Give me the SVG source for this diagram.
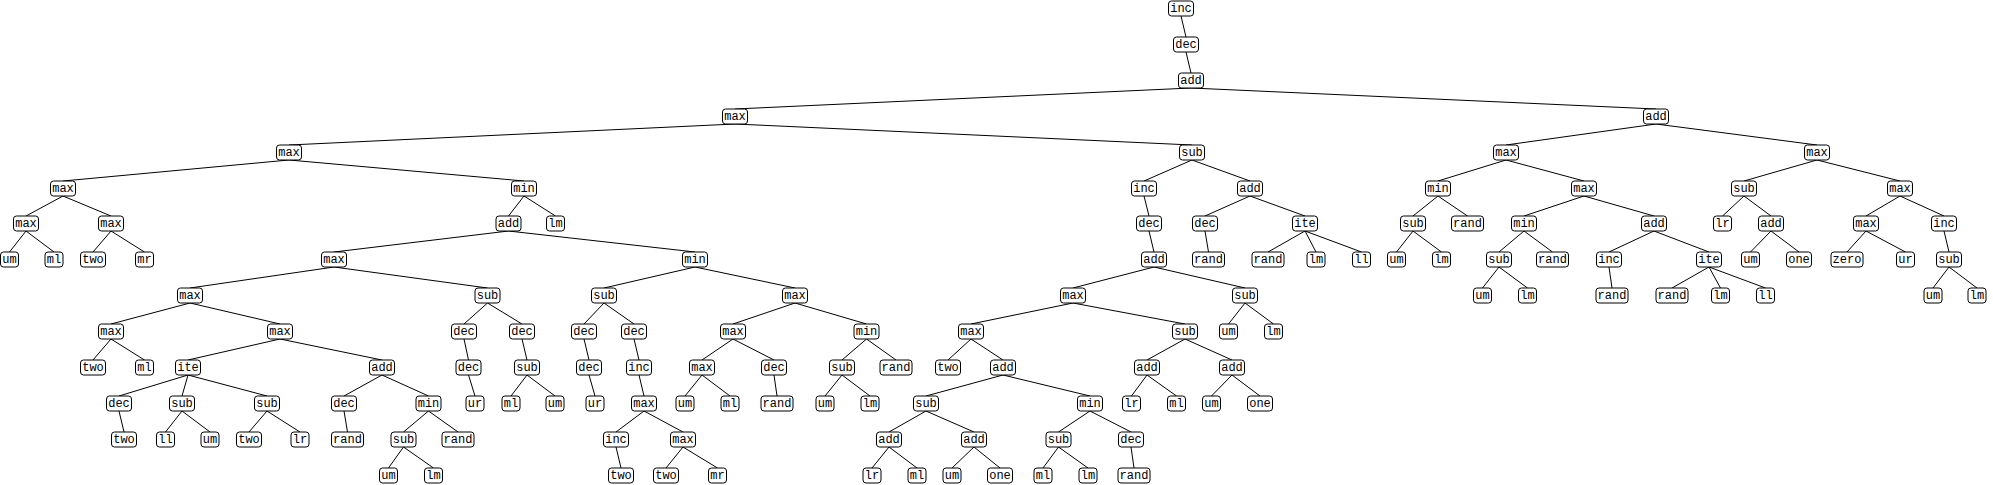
<svg xmlns="http://www.w3.org/2000/svg" width="1993" height="485" viewBox="0 0 1993 485">
<style>
.node rect{fill:#fff;stroke:#000;stroke-width:1}
.node text{font-family:"Liberation Mono","DejaVu Sans Mono",monospace;font-size:12px;text-anchor:middle;fill:#000}
#edges line{stroke:#000;stroke-width:1}
</style>
<rect width="1993" height="485" fill="#fff"/>
<g id="edges">
<line x1="1181" y1="16" x2="1186" y2="37"/>
<line x1="1186" y1="52" x2="1191" y2="73"/>
<line x1="1191" y1="88" x2="735" y2="109"/>
<line x1="1191" y1="88" x2="1656" y2="109"/>
<line x1="735" y1="124" x2="289" y2="145"/>
<line x1="735" y1="124" x2="1192" y2="145"/>
<line x1="289" y1="160" x2="63" y2="181"/>
<line x1="289" y1="160" x2="524" y2="181"/>
<line x1="63" y1="196" x2="26" y2="216"/>
<line x1="63" y1="196" x2="111" y2="216"/>
<line x1="26" y1="231" x2="9.5" y2="252"/>
<line x1="26" y1="231" x2="54" y2="252"/>
<line x1="111" y1="231" x2="93" y2="252"/>
<line x1="111" y1="231" x2="144.5" y2="252"/>
<line x1="524" y1="196" x2="508.5" y2="216"/>
<line x1="524" y1="196" x2="555.5" y2="216"/>
<line x1="508.5" y1="231" x2="334" y2="252"/>
<line x1="508.5" y1="231" x2="695" y2="252"/>
<line x1="334" y1="267" x2="190" y2="288"/>
<line x1="334" y1="267" x2="487.5" y2="288"/>
<line x1="190" y1="303" x2="111" y2="324"/>
<line x1="190" y1="303" x2="280" y2="324"/>
<line x1="111" y1="339" x2="93" y2="360"/>
<line x1="111" y1="339" x2="144.5" y2="360"/>
<line x1="280" y1="339" x2="188" y2="360"/>
<line x1="280" y1="339" x2="382" y2="360"/>
<line x1="188" y1="375" x2="119" y2="396"/>
<line x1="188" y1="375" x2="182" y2="396"/>
<line x1="188" y1="375" x2="267" y2="396"/>
<line x1="119" y1="411" x2="124" y2="432"/>
<line x1="182" y1="411" x2="165.5" y2="432"/>
<line x1="182" y1="411" x2="210" y2="432"/>
<line x1="267" y1="411" x2="249" y2="432"/>
<line x1="267" y1="411" x2="300" y2="432"/>
<line x1="382" y1="375" x2="344" y2="396"/>
<line x1="382" y1="375" x2="428.5" y2="396"/>
<line x1="344" y1="411" x2="347.5" y2="432"/>
<line x1="428.5" y1="411" x2="403.5" y2="432"/>
<line x1="428.5" y1="411" x2="458" y2="432"/>
<line x1="403.5" y1="447" x2="388.5" y2="468"/>
<line x1="403.5" y1="447" x2="433.5" y2="468"/>
<line x1="487.5" y1="303" x2="464" y2="324"/>
<line x1="487.5" y1="303" x2="522" y2="324"/>
<line x1="464" y1="339" x2="468.5" y2="360"/>
<line x1="468.5" y1="375" x2="475" y2="396"/>
<line x1="522" y1="339" x2="527" y2="360"/>
<line x1="527" y1="375" x2="511" y2="396"/>
<line x1="527" y1="375" x2="555" y2="396"/>
<line x1="695" y1="267" x2="604" y2="288"/>
<line x1="695" y1="267" x2="795" y2="288"/>
<line x1="604" y1="303" x2="584" y2="324"/>
<line x1="604" y1="303" x2="634" y2="324"/>
<line x1="584" y1="339" x2="589" y2="360"/>
<line x1="589" y1="375" x2="595" y2="396"/>
<line x1="634" y1="339" x2="639" y2="360"/>
<line x1="639" y1="375" x2="644" y2="396"/>
<line x1="644" y1="411" x2="616" y2="432"/>
<line x1="644" y1="411" x2="683" y2="432"/>
<line x1="616" y1="447" x2="621" y2="468"/>
<line x1="683" y1="447" x2="666" y2="468"/>
<line x1="683" y1="447" x2="717.5" y2="468"/>
<line x1="795" y1="303" x2="733" y2="324"/>
<line x1="795" y1="303" x2="866.5" y2="324"/>
<line x1="733" y1="339" x2="702" y2="360"/>
<line x1="733" y1="339" x2="774" y2="360"/>
<line x1="702" y1="375" x2="685" y2="396"/>
<line x1="702" y1="375" x2="730" y2="396"/>
<line x1="774" y1="375" x2="777" y2="396"/>
<line x1="866.5" y1="339" x2="842" y2="360"/>
<line x1="866.5" y1="339" x2="896" y2="360"/>
<line x1="842" y1="375" x2="825" y2="396"/>
<line x1="842" y1="375" x2="870" y2="396"/>
<line x1="1192" y1="160" x2="1144" y2="181"/>
<line x1="1192" y1="160" x2="1250" y2="181"/>
<line x1="1144" y1="196" x2="1149" y2="216"/>
<line x1="1149" y1="231" x2="1154" y2="252"/>
<line x1="1154" y1="267" x2="1073" y2="288"/>
<line x1="1154" y1="267" x2="1245" y2="288"/>
<line x1="1073" y1="303" x2="971" y2="324"/>
<line x1="1073" y1="303" x2="1185" y2="324"/>
<line x1="971" y1="339" x2="948" y2="360"/>
<line x1="971" y1="339" x2="1003" y2="360"/>
<line x1="1003" y1="375" x2="926" y2="396"/>
<line x1="1003" y1="375" x2="1090" y2="396"/>
<line x1="926" y1="411" x2="889" y2="432"/>
<line x1="926" y1="411" x2="974" y2="432"/>
<line x1="889" y1="447" x2="872" y2="468"/>
<line x1="889" y1="447" x2="917" y2="468"/>
<line x1="974" y1="447" x2="952" y2="468"/>
<line x1="974" y1="447" x2="1000" y2="468"/>
<line x1="1090" y1="411" x2="1058.5" y2="432"/>
<line x1="1090" y1="411" x2="1131" y2="432"/>
<line x1="1058.5" y1="447" x2="1043" y2="468"/>
<line x1="1058.5" y1="447" x2="1088" y2="468"/>
<line x1="1131" y1="447" x2="1134" y2="468"/>
<line x1="1185" y1="339" x2="1147" y2="360"/>
<line x1="1185" y1="339" x2="1232" y2="360"/>
<line x1="1147" y1="375" x2="1131.5" y2="396"/>
<line x1="1147" y1="375" x2="1176.5" y2="396"/>
<line x1="1232" y1="375" x2="1211.5" y2="396"/>
<line x1="1232" y1="375" x2="1260" y2="396"/>
<line x1="1245" y1="303" x2="1228.5" y2="324"/>
<line x1="1245" y1="303" x2="1273.5" y2="324"/>
<line x1="1250" y1="196" x2="1205" y2="216"/>
<line x1="1250" y1="196" x2="1305" y2="216"/>
<line x1="1205" y1="231" x2="1208.5" y2="252"/>
<line x1="1305" y1="231" x2="1268" y2="252"/>
<line x1="1305" y1="231" x2="1316" y2="252"/>
<line x1="1305" y1="231" x2="1361.5" y2="252"/>
<line x1="1656" y1="124" x2="1506" y2="145"/>
<line x1="1656" y1="124" x2="1817" y2="145"/>
<line x1="1506" y1="160" x2="1438" y2="181"/>
<line x1="1506" y1="160" x2="1584" y2="181"/>
<line x1="1438" y1="196" x2="1413" y2="216"/>
<line x1="1438" y1="196" x2="1467.5" y2="216"/>
<line x1="1413" y1="231" x2="1396.5" y2="252"/>
<line x1="1413" y1="231" x2="1441.5" y2="252"/>
<line x1="1584" y1="196" x2="1524" y2="216"/>
<line x1="1584" y1="196" x2="1654" y2="216"/>
<line x1="1524" y1="231" x2="1499" y2="252"/>
<line x1="1524" y1="231" x2="1552.5" y2="252"/>
<line x1="1499" y1="267" x2="1482.5" y2="288"/>
<line x1="1499" y1="267" x2="1527.5" y2="288"/>
<line x1="1654" y1="231" x2="1609" y2="252"/>
<line x1="1654" y1="231" x2="1709" y2="252"/>
<line x1="1609" y1="267" x2="1612" y2="288"/>
<line x1="1709" y1="267" x2="1672" y2="288"/>
<line x1="1709" y1="267" x2="1720.5" y2="288"/>
<line x1="1709" y1="267" x2="1765.5" y2="288"/>
<line x1="1817" y1="160" x2="1744" y2="181"/>
<line x1="1817" y1="160" x2="1900" y2="181"/>
<line x1="1744" y1="196" x2="1722.5" y2="216"/>
<line x1="1744" y1="196" x2="1771" y2="216"/>
<line x1="1771" y1="231" x2="1750.5" y2="252"/>
<line x1="1771" y1="231" x2="1799" y2="252"/>
<line x1="1900" y1="196" x2="1866" y2="216"/>
<line x1="1900" y1="196" x2="1944" y2="216"/>
<line x1="1866" y1="231" x2="1847" y2="252"/>
<line x1="1866" y1="231" x2="1905.5" y2="252"/>
<line x1="1944" y1="231" x2="1949" y2="252"/>
<line x1="1949" y1="267" x2="1933" y2="288"/>
<line x1="1949" y1="267" x2="1977" y2="288"/>
</g>
<g id="n0" class="node"><rect x="1168.5" y="1" width="25" height="15" rx="3"/><text x="1181" y="12">inc</text></g>
<g id="n1" class="node"><rect x="1173.5" y="37" width="25" height="15" rx="3"/><text x="1186" y="48">dec</text></g>
<g id="n2" class="node"><rect x="1178.5" y="73" width="25" height="15" rx="3"/><text x="1191" y="84">add</text></g>
<g id="n3" class="node"><rect x="722.5" y="109" width="25" height="15" rx="3"/><text x="735" y="120">max</text></g>
<g id="n4" class="node"><rect x="1643.5" y="109" width="25" height="15" rx="3"/><text x="1656" y="120">add</text></g>
<g id="n5" class="node"><rect x="276.5" y="145" width="25" height="15" rx="3"/><text x="289" y="156">max</text></g>
<g id="n6" class="node"><rect x="1179.5" y="145" width="25" height="15" rx="3"/><text x="1192" y="156">sub</text></g>
<g id="n7" class="node"><rect x="50.5" y="181" width="25" height="15" rx="3"/><text x="63" y="192">max</text></g>
<g id="n8" class="node"><rect x="511.5" y="181" width="25" height="15" rx="3"/><text x="524" y="192">min</text></g>
<g id="n9" class="node"><rect x="13.5" y="216" width="25" height="15" rx="3"/><text x="26" y="227">max</text></g>
<g id="n10" class="node"><rect x="98.5" y="216" width="25" height="15" rx="3"/><text x="111" y="227">max</text></g>
<g id="n11" class="node"><rect x="0.5" y="252" width="18" height="15" rx="3"/><text x="9.5" y="263">um</text></g>
<g id="n12" class="node"><rect x="45" y="252" width="18" height="15" rx="3"/><text x="54" y="263">ml</text></g>
<g id="n13" class="node"><rect x="80.5" y="252" width="25" height="15" rx="3"/><text x="93" y="263">two</text></g>
<g id="n14" class="node"><rect x="135.5" y="252" width="18" height="15" rx="3"/><text x="144.5" y="263">mr</text></g>
<g id="n15" class="node"><rect x="496" y="216" width="25" height="15" rx="3"/><text x="508.5" y="227">add</text></g>
<g id="n16" class="node"><rect x="546.5" y="216" width="18" height="15" rx="3"/><text x="555.5" y="227">lm</text></g>
<g id="n17" class="node"><rect x="321.5" y="252" width="25" height="15" rx="3"/><text x="334" y="263">max</text></g>
<g id="n18" class="node"><rect x="682.5" y="252" width="25" height="15" rx="3"/><text x="695" y="263">min</text></g>
<g id="n19" class="node"><rect x="177.5" y="288" width="25" height="15" rx="3"/><text x="190" y="299">max</text></g>
<g id="n20" class="node"><rect x="475" y="288" width="25" height="15" rx="3"/><text x="487.5" y="299">sub</text></g>
<g id="n21" class="node"><rect x="98.5" y="324" width="25" height="15" rx="3"/><text x="111" y="335">max</text></g>
<g id="n22" class="node"><rect x="267.5" y="324" width="25" height="15" rx="3"/><text x="280" y="335">max</text></g>
<g id="n23" class="node"><rect x="80.5" y="360" width="25" height="15" rx="3"/><text x="93" y="371">two</text></g>
<g id="n24" class="node"><rect x="135.5" y="360" width="18" height="15" rx="3"/><text x="144.5" y="371">ml</text></g>
<g id="n25" class="node"><rect x="175.5" y="360" width="25" height="15" rx="3"/><text x="188" y="371">ite</text></g>
<g id="n26" class="node"><rect x="369.5" y="360" width="25" height="15" rx="3"/><text x="382" y="371">add</text></g>
<g id="n27" class="node"><rect x="106.5" y="396" width="25" height="15" rx="3"/><text x="119" y="407">dec</text></g>
<g id="n28" class="node"><rect x="169.5" y="396" width="25" height="15" rx="3"/><text x="182" y="407">sub</text></g>
<g id="n29" class="node"><rect x="254.5" y="396" width="25" height="15" rx="3"/><text x="267" y="407">sub</text></g>
<g id="n30" class="node"><rect x="111.5" y="432" width="25" height="15" rx="3"/><text x="124" y="443">two</text></g>
<g id="n31" class="node"><rect x="156.5" y="432" width="18" height="15" rx="3"/><text x="165.5" y="443">ll</text></g>
<g id="n32" class="node"><rect x="201" y="432" width="18" height="15" rx="3"/><text x="210" y="443">um</text></g>
<g id="n33" class="node"><rect x="236.5" y="432" width="25" height="15" rx="3"/><text x="249" y="443">two</text></g>
<g id="n34" class="node"><rect x="291" y="432" width="18" height="15" rx="3"/><text x="300" y="443">lr</text></g>
<g id="n35" class="node"><rect x="331.5" y="396" width="25" height="15" rx="3"/><text x="344" y="407">dec</text></g>
<g id="n36" class="node"><rect x="416" y="396" width="25" height="15" rx="3"/><text x="428.5" y="407">min</text></g>
<g id="n37" class="node"><rect x="331.5" y="432" width="32" height="15" rx="3"/><text x="347.5" y="443">rand</text></g>
<g id="n38" class="node"><rect x="391" y="432" width="25" height="15" rx="3"/><text x="403.5" y="443">sub</text></g>
<g id="n39" class="node"><rect x="442" y="432" width="32" height="15" rx="3"/><text x="458" y="443">rand</text></g>
<g id="n40" class="node"><rect x="379.5" y="468" width="18" height="15" rx="3"/><text x="388.5" y="479">um</text></g>
<g id="n41" class="node"><rect x="424.5" y="468" width="18" height="15" rx="3"/><text x="433.5" y="479">lm</text></g>
<g id="n42" class="node"><rect x="451.5" y="324" width="25" height="15" rx="3"/><text x="464" y="335">dec</text></g>
<g id="n43" class="node"><rect x="509.5" y="324" width="25" height="15" rx="3"/><text x="522" y="335">dec</text></g>
<g id="n44" class="node"><rect x="456" y="360" width="25" height="15" rx="3"/><text x="468.5" y="371">dec</text></g>
<g id="n45" class="node"><rect x="466" y="396" width="18" height="15" rx="3"/><text x="475" y="407">ur</text></g>
<g id="n46" class="node"><rect x="514.5" y="360" width="25" height="15" rx="3"/><text x="527" y="371">sub</text></g>
<g id="n47" class="node"><rect x="502" y="396" width="18" height="15" rx="3"/><text x="511" y="407">ml</text></g>
<g id="n48" class="node"><rect x="546" y="396" width="18" height="15" rx="3"/><text x="555" y="407">um</text></g>
<g id="n49" class="node"><rect x="591.5" y="288" width="25" height="15" rx="3"/><text x="604" y="299">sub</text></g>
<g id="n50" class="node"><rect x="782.5" y="288" width="25" height="15" rx="3"/><text x="795" y="299">max</text></g>
<g id="n51" class="node"><rect x="571.5" y="324" width="25" height="15" rx="3"/><text x="584" y="335">dec</text></g>
<g id="n52" class="node"><rect x="621.5" y="324" width="25" height="15" rx="3"/><text x="634" y="335">dec</text></g>
<g id="n53" class="node"><rect x="576.5" y="360" width="25" height="15" rx="3"/><text x="589" y="371">dec</text></g>
<g id="n54" class="node"><rect x="586" y="396" width="18" height="15" rx="3"/><text x="595" y="407">ur</text></g>
<g id="n55" class="node"><rect x="626.5" y="360" width="25" height="15" rx="3"/><text x="639" y="371">inc</text></g>
<g id="n56" class="node"><rect x="631.5" y="396" width="25" height="15" rx="3"/><text x="644" y="407">max</text></g>
<g id="n57" class="node"><rect x="603.5" y="432" width="25" height="15" rx="3"/><text x="616" y="443">inc</text></g>
<g id="n58" class="node"><rect x="670.5" y="432" width="25" height="15" rx="3"/><text x="683" y="443">max</text></g>
<g id="n59" class="node"><rect x="608.5" y="468" width="25" height="15" rx="3"/><text x="621" y="479">two</text></g>
<g id="n60" class="node"><rect x="653.5" y="468" width="25" height="15" rx="3"/><text x="666" y="479">two</text></g>
<g id="n61" class="node"><rect x="708.5" y="468" width="18" height="15" rx="3"/><text x="717.5" y="479">mr</text></g>
<g id="n62" class="node"><rect x="720.5" y="324" width="25" height="15" rx="3"/><text x="733" y="335">max</text></g>
<g id="n63" class="node"><rect x="854" y="324" width="25" height="15" rx="3"/><text x="866.5" y="335">min</text></g>
<g id="n64" class="node"><rect x="689.5" y="360" width="25" height="15" rx="3"/><text x="702" y="371">max</text></g>
<g id="n65" class="node"><rect x="761.5" y="360" width="25" height="15" rx="3"/><text x="774" y="371">dec</text></g>
<g id="n66" class="node"><rect x="676" y="396" width="18" height="15" rx="3"/><text x="685" y="407">um</text></g>
<g id="n67" class="node"><rect x="721" y="396" width="18" height="15" rx="3"/><text x="730" y="407">ml</text></g>
<g id="n68" class="node"><rect x="761" y="396" width="32" height="15" rx="3"/><text x="777" y="407">rand</text></g>
<g id="n69" class="node"><rect x="829.5" y="360" width="25" height="15" rx="3"/><text x="842" y="371">sub</text></g>
<g id="n70" class="node"><rect x="880" y="360" width="32" height="15" rx="3"/><text x="896" y="371">rand</text></g>
<g id="n71" class="node"><rect x="816" y="396" width="18" height="15" rx="3"/><text x="825" y="407">um</text></g>
<g id="n72" class="node"><rect x="861" y="396" width="18" height="15" rx="3"/><text x="870" y="407">lm</text></g>
<g id="n73" class="node"><rect x="1131.5" y="181" width="25" height="15" rx="3"/><text x="1144" y="192">inc</text></g>
<g id="n74" class="node"><rect x="1237.5" y="181" width="25" height="15" rx="3"/><text x="1250" y="192">add</text></g>
<g id="n75" class="node"><rect x="1136.5" y="216" width="25" height="15" rx="3"/><text x="1149" y="227">dec</text></g>
<g id="n76" class="node"><rect x="1141.5" y="252" width="25" height="15" rx="3"/><text x="1154" y="263">add</text></g>
<g id="n77" class="node"><rect x="1060.5" y="288" width="25" height="15" rx="3"/><text x="1073" y="299">max</text></g>
<g id="n78" class="node"><rect x="1232.5" y="288" width="25" height="15" rx="3"/><text x="1245" y="299">sub</text></g>
<g id="n79" class="node"><rect x="958.5" y="324" width="25" height="15" rx="3"/><text x="971" y="335">max</text></g>
<g id="n80" class="node"><rect x="1172.5" y="324" width="25" height="15" rx="3"/><text x="1185" y="335">sub</text></g>
<g id="n81" class="node"><rect x="935.5" y="360" width="25" height="15" rx="3"/><text x="948" y="371">two</text></g>
<g id="n82" class="node"><rect x="990.5" y="360" width="25" height="15" rx="3"/><text x="1003" y="371">add</text></g>
<g id="n83" class="node"><rect x="913.5" y="396" width="25" height="15" rx="3"/><text x="926" y="407">sub</text></g>
<g id="n84" class="node"><rect x="1077.5" y="396" width="25" height="15" rx="3"/><text x="1090" y="407">min</text></g>
<g id="n85" class="node"><rect x="876.5" y="432" width="25" height="15" rx="3"/><text x="889" y="443">add</text></g>
<g id="n86" class="node"><rect x="961.5" y="432" width="25" height="15" rx="3"/><text x="974" y="443">add</text></g>
<g id="n87" class="node"><rect x="863" y="468" width="18" height="15" rx="3"/><text x="872" y="479">lr</text></g>
<g id="n88" class="node"><rect x="908" y="468" width="18" height="15" rx="3"/><text x="917" y="479">ml</text></g>
<g id="n89" class="node"><rect x="943" y="468" width="18" height="15" rx="3"/><text x="952" y="479">um</text></g>
<g id="n90" class="node"><rect x="987.5" y="468" width="25" height="15" rx="3"/><text x="1000" y="479">one</text></g>
<g id="n91" class="node"><rect x="1046" y="432" width="25" height="15" rx="3"/><text x="1058.5" y="443">sub</text></g>
<g id="n92" class="node"><rect x="1118.5" y="432" width="25" height="15" rx="3"/><text x="1131" y="443">dec</text></g>
<g id="n93" class="node"><rect x="1034" y="468" width="18" height="15" rx="3"/><text x="1043" y="479">ml</text></g>
<g id="n94" class="node"><rect x="1079" y="468" width="18" height="15" rx="3"/><text x="1088" y="479">lm</text></g>
<g id="n95" class="node"><rect x="1118" y="468" width="32" height="15" rx="3"/><text x="1134" y="479">rand</text></g>
<g id="n96" class="node"><rect x="1134.5" y="360" width="25" height="15" rx="3"/><text x="1147" y="371">add</text></g>
<g id="n97" class="node"><rect x="1219.5" y="360" width="25" height="15" rx="3"/><text x="1232" y="371">add</text></g>
<g id="n98" class="node"><rect x="1122.5" y="396" width="18" height="15" rx="3"/><text x="1131.5" y="407">lr</text></g>
<g id="n99" class="node"><rect x="1167.5" y="396" width="18" height="15" rx="3"/><text x="1176.5" y="407">ml</text></g>
<g id="n100" class="node"><rect x="1202.5" y="396" width="18" height="15" rx="3"/><text x="1211.5" y="407">um</text></g>
<g id="n101" class="node"><rect x="1247.5" y="396" width="25" height="15" rx="3"/><text x="1260" y="407">one</text></g>
<g id="n102" class="node"><rect x="1219.5" y="324" width="18" height="15" rx="3"/><text x="1228.5" y="335">um</text></g>
<g id="n103" class="node"><rect x="1264.5" y="324" width="18" height="15" rx="3"/><text x="1273.5" y="335">lm</text></g>
<g id="n104" class="node"><rect x="1192.5" y="216" width="25" height="15" rx="3"/><text x="1205" y="227">dec</text></g>
<g id="n105" class="node"><rect x="1292.5" y="216" width="25" height="15" rx="3"/><text x="1305" y="227">ite</text></g>
<g id="n106" class="node"><rect x="1192.5" y="252" width="32" height="15" rx="3"/><text x="1208.5" y="263">rand</text></g>
<g id="n107" class="node"><rect x="1252" y="252" width="32" height="15" rx="3"/><text x="1268" y="263">rand</text></g>
<g id="n108" class="node"><rect x="1307" y="252" width="18" height="15" rx="3"/><text x="1316" y="263">lm</text></g>
<g id="n109" class="node"><rect x="1352.5" y="252" width="18" height="15" rx="3"/><text x="1361.5" y="263">ll</text></g>
<g id="n110" class="node"><rect x="1493.5" y="145" width="25" height="15" rx="3"/><text x="1506" y="156">max</text></g>
<g id="n111" class="node"><rect x="1804.5" y="145" width="25" height="15" rx="3"/><text x="1817" y="156">max</text></g>
<g id="n112" class="node"><rect x="1425.5" y="181" width="25" height="15" rx="3"/><text x="1438" y="192">min</text></g>
<g id="n113" class="node"><rect x="1571.5" y="181" width="25" height="15" rx="3"/><text x="1584" y="192">max</text></g>
<g id="n114" class="node"><rect x="1400.5" y="216" width="25" height="15" rx="3"/><text x="1413" y="227">sub</text></g>
<g id="n115" class="node"><rect x="1451.5" y="216" width="32" height="15" rx="3"/><text x="1467.5" y="227">rand</text></g>
<g id="n116" class="node"><rect x="1387.5" y="252" width="18" height="15" rx="3"/><text x="1396.5" y="263">um</text></g>
<g id="n117" class="node"><rect x="1432.5" y="252" width="18" height="15" rx="3"/><text x="1441.5" y="263">lm</text></g>
<g id="n118" class="node"><rect x="1511.5" y="216" width="25" height="15" rx="3"/><text x="1524" y="227">min</text></g>
<g id="n119" class="node"><rect x="1641.5" y="216" width="25" height="15" rx="3"/><text x="1654" y="227">add</text></g>
<g id="n120" class="node"><rect x="1486.5" y="252" width="25" height="15" rx="3"/><text x="1499" y="263">sub</text></g>
<g id="n121" class="node"><rect x="1536.5" y="252" width="32" height="15" rx="3"/><text x="1552.5" y="263">rand</text></g>
<g id="n122" class="node"><rect x="1473.5" y="288" width="18" height="15" rx="3"/><text x="1482.5" y="299">um</text></g>
<g id="n123" class="node"><rect x="1518.5" y="288" width="18" height="15" rx="3"/><text x="1527.5" y="299">lm</text></g>
<g id="n124" class="node"><rect x="1596.5" y="252" width="25" height="15" rx="3"/><text x="1609" y="263">inc</text></g>
<g id="n125" class="node"><rect x="1696.5" y="252" width="25" height="15" rx="3"/><text x="1709" y="263">ite</text></g>
<g id="n126" class="node"><rect x="1596" y="288" width="32" height="15" rx="3"/><text x="1612" y="299">rand</text></g>
<g id="n127" class="node"><rect x="1656" y="288" width="32" height="15" rx="3"/><text x="1672" y="299">rand</text></g>
<g id="n128" class="node"><rect x="1711.5" y="288" width="18" height="15" rx="3"/><text x="1720.5" y="299">lm</text></g>
<g id="n129" class="node"><rect x="1756.5" y="288" width="18" height="15" rx="3"/><text x="1765.5" y="299">ll</text></g>
<g id="n130" class="node"><rect x="1731.5" y="181" width="25" height="15" rx="3"/><text x="1744" y="192">sub</text></g>
<g id="n131" class="node"><rect x="1887.5" y="181" width="25" height="15" rx="3"/><text x="1900" y="192">max</text></g>
<g id="n132" class="node"><rect x="1713.5" y="216" width="18" height="15" rx="3"/><text x="1722.5" y="227">lr</text></g>
<g id="n133" class="node"><rect x="1758.5" y="216" width="25" height="15" rx="3"/><text x="1771" y="227">add</text></g>
<g id="n134" class="node"><rect x="1741.5" y="252" width="18" height="15" rx="3"/><text x="1750.5" y="263">um</text></g>
<g id="n135" class="node"><rect x="1786.5" y="252" width="25" height="15" rx="3"/><text x="1799" y="263">one</text></g>
<g id="n136" class="node"><rect x="1853.5" y="216" width="25" height="15" rx="3"/><text x="1866" y="227">max</text></g>
<g id="n137" class="node"><rect x="1931.5" y="216" width="25" height="15" rx="3"/><text x="1944" y="227">inc</text></g>
<g id="n138" class="node"><rect x="1831" y="252" width="32" height="15" rx="3"/><text x="1847" y="263">zero</text></g>
<g id="n139" class="node"><rect x="1896.5" y="252" width="18" height="15" rx="3"/><text x="1905.5" y="263">ur</text></g>
<g id="n140" class="node"><rect x="1936.5" y="252" width="25" height="15" rx="3"/><text x="1949" y="263">sub</text></g>
<g id="n141" class="node"><rect x="1924" y="288" width="18" height="15" rx="3"/><text x="1933" y="299">um</text></g>
<g id="n142" class="node"><rect x="1968" y="288" width="18" height="15" rx="3"/><text x="1977" y="299">lm</text></g>
</svg>
